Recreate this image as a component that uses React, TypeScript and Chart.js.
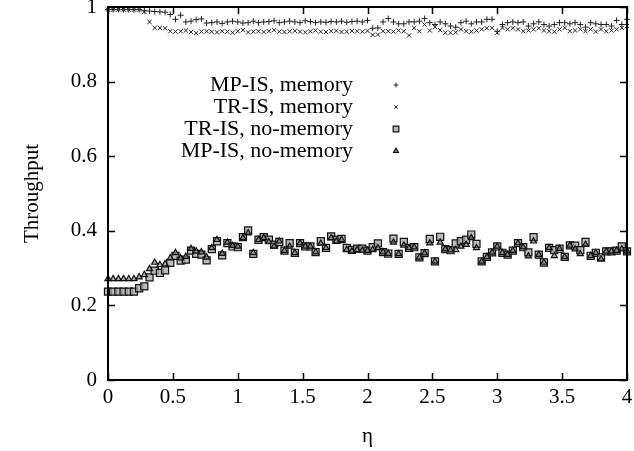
import React, { useEffect, useRef } from 'react';
import { Chart, registerables } from 'chart.js';

Chart.register(...registerables);

const FONT = '"Liberation Serif", "Times New Roman", serif';

// eta grid (x values)
const ETA_STEP = 0.04;
const ETA_COUNT = 101;
const ETA = Array.from({ length: ETA_COUNT }, (_, i) => Math.round(i * ETA_STEP * 100) / 100);

const X_TICKS = [0, 0.5, 1, 1.5, 2, 2.5, 3, 3.5, 4];
const Y_TICKS = [0, 0.2, 0.4, 0.6, 0.8, 1];

const SERIES_LABELS = ['MP-IS, memory', 'TR-IS, memory', 'TR-IS, no-memory', 'MP-IS, no-memory'];

const MP_IS_MEMORY = [
  0.993, 0.993, 0.993, 0.993, 0.993, 0.993, 0.993,
  0.990, 0.989, 0.988, 0.987, 0.986,
  0.980, 0.967, 0.978, 0.960, 0.962, 0.966, 0.968, 0.957, 0.958, 0.960,
  0.956, 0.960, 0.962, 0.960, 0.957, 0.958, 0.962, 0.958, 0.960, 0.961,
  0.963, 0.958, 0.960, 0.962, 0.960, 0.958, 0.963, 0.961, 0.958, 0.960,
  0.959, 0.961, 0.960, 0.962, 0.959, 0.961, 0.962, 0.960, 0.964,
  0.943, 0.944, 0.960, 0.969, 0.960, 0.955, 0.955, 0.960, 0.960, 0.962,
  0.969, 0.958, 0.953, 0.960, 0.955, 0.949, 0.946,
  0.958, 0.962, 0.955, 0.960, 0.960, 0.967, 0.967, 0.935, 0.953, 0.958,
  0.960, 0.958, 0.960, 0.949, 0.955, 0.960, 0.953, 0.949, 0.953, 0.958,
  0.958, 0.955, 0.958, 0.953, 0.946, 0.958, 0.955, 0.953, 0.953, 0.949,
  0.964, 0.953, 0.967,
];

const TR_IS_MEMORY = [
  0.993, 0.993, 0.993, 0.993, 0.993, 0.993, 0.993,
  0.987, 0.960, 0.944, 0.944, 0.943,
  0.935, 0.934, 0.935, 0.937, 0.933, 0.930, 0.934, 0.935, 0.934, 0.932,
  0.935, 0.934, 0.931, 0.935, 0.938, 0.932, 0.934, 0.935, 0.933, 0.935,
  0.938, 0.934, 0.933, 0.935, 0.936, 0.934, 0.932, 0.935, 0.937, 0.934,
  0.933, 0.935, 0.936, 0.933, 0.934, 0.936, 0.935, 0.934, 0.936,
  0.925, 0.926, 0.935, 0.935, 0.934, 0.937, 0.935, 0.924, 0.944, 0.935,
  0.953, 0.937, 0.946, 0.938, 0.931, 0.931, 0.932,
  0.940, 0.935, 0.934, 0.937, 0.940, 0.943, 0.944, 0.931, 0.944, 0.940,
  0.943, 0.940, 0.935, 0.937, 0.940, 0.943, 0.937, 0.935, 0.934, 0.940,
  0.944, 0.935, 0.937, 0.940, 0.935, 0.940, 0.934, 0.940, 0.935, 0.937,
  0.940, 0.944, 0.949,
];

const TR_IS_NO_MEMORY = [
  0.237, 0.237, 0.237, 0.237, 0.237, 0.237,
  0.246, 0.251, 0.275, 0.293, 0.287, 0.294, 0.314, 0.333, 0.320, 0.323,
  0.347, 0.338, 0.336, 0.321, 0.351, 0.372, 0.334, 0.367, 0.358, 0.356,
  0.383, 0.401, 0.338, 0.376, 0.383, 0.376, 0.363, 0.370, 0.347, 0.367,
  0.341, 0.367, 0.358, 0.358, 0.343, 0.372, 0.354, 0.385, 0.376, 0.378,
  0.354, 0.349, 0.352, 0.352, 0.347,
  0.356, 0.366, 0.343, 0.339, 0.379, 0.338, 0.370, 0.354, 0.356, 0.329,
  0.340, 0.378, 0.318, 0.384, 0.351, 0.348,
  0.366, 0.372, 0.376, 0.390, 0.365, 0.318, 0.330, 0.342, 0.358, 0.341,
  0.336, 0.347, 0.367, 0.356, 0.342, 0.383, 0.336, 0.315, 0.354, 0.348,
  0.352, 0.330, 0.361, 0.360, 0.348, 0.370, 0.333, 0.341, 0.329, 0.345,
  0.345, 0.347, 0.358, 0.345,
];

const MP_IS_NO_MEMORY = [
  0.271, 0.271, 0.271, 0.271, 0.271, 0.271,
  0.276, 0.282, 0.298, 0.315, 0.309, 0.311, 0.327, 0.341, 0.327, 0.331,
  0.352, 0.345, 0.343, 0.329, 0.354, 0.376, 0.339, 0.369, 0.360, 0.358,
  0.381, 0.394, 0.341, 0.376, 0.381, 0.370, 0.358, 0.372, 0.347, 0.358,
  0.341, 0.367, 0.358, 0.358, 0.343, 0.366, 0.354, 0.381, 0.372, 0.376,
  0.349, 0.345, 0.349, 0.347, 0.347,
  0.349, 0.354, 0.343, 0.339, 0.369, 0.338, 0.361, 0.354, 0.356, 0.329,
  0.340, 0.367, 0.318, 0.369, 0.351, 0.348,
  0.349, 0.358, 0.363, 0.381, 0.354, 0.318, 0.330, 0.342, 0.358, 0.341,
  0.336, 0.347, 0.367, 0.356, 0.332, 0.372, 0.336, 0.315, 0.354, 0.333,
  0.352, 0.330, 0.361, 0.351, 0.338, 0.363, 0.333, 0.341, 0.324, 0.345,
  0.345, 0.347, 0.351, 0.345,
];

const SERIES_VALUES = [MP_IS_MEMORY, TR_IS_MEMORY, TR_IS_NO_MEMORY, MP_IS_NO_MEMORY];

// styles
const W = 634;
const H = 451;
const AREA = { left: 108, right: 627, top: 7, bottom: 380 };
const TICK_LEN = 7;
const FONT_SIZE = 21;
const LEGEND_FONT_SIZE = 22;
const LEGEND = { textX: 353, markX: 396, top: 85, gap: 22 };

type MarkStyle = { pointStyle: string; radius: number; border: string; fill: string; width: number };
const MARKS: MarkStyle[] = [
  { pointStyle: 'cross', radius: 3, border: '#222', fill: 'transparent', width: 1 },
  { pointStyle: 'crossRot', radius: 3, border: '#222', fill: 'transparent', width: 1 },
  { pointStyle: 'rect', radius: 5, border: '#111', fill: 'rgba(170,170,170,0.8)', width: 1.2 },
  { pointStyle: 'triangle', radius: 3.5, border: '#111', fill: 'rgba(110,110,110,0.6)', width: 1.2 },
];
const DRAW_ORDER = [3, 2, 1, 0];

function drawMark(ctx: CanvasRenderingContext2D, m: MarkStyle, x: number, y: number) {
  ctx.save();
  ctx.strokeStyle = m.border;
  ctx.fillStyle = m.fill;
  ctx.lineWidth = m.width;
  ctx.beginPath();
  const r = m.radius;
  if (m.pointStyle === 'cross') {
    ctx.moveTo(x - r, y); ctx.lineTo(x + r, y);
    ctx.moveTo(x, y - r); ctx.lineTo(x, y + r);
    ctx.stroke();
  } else if (m.pointStyle === 'crossRot') {
    const d = r * Math.SQRT1_2;
    ctx.moveTo(x - d, y - d); ctx.lineTo(x + d, y + d);
    ctx.moveTo(x + d, y - d); ctx.lineTo(x - d, y + d);
    ctx.stroke();
  } else if (m.pointStyle === 'rect') {
    const s = r * Math.SQRT1_2;
    ctx.rect(x - s, y - s, 2 * s, 2 * s);
    ctx.fill(); ctx.stroke();
  } else {
    const a = (-90 * Math.PI) / 180;
    for (let k = 0; k < 3; k++) {
      const ang = a + (k * 2 * Math.PI) / 3;
      const px = x + Math.cos(ang) * r;
      const py = y + Math.sin(ang) * r;
      if (k === 0) ctx.moveTo(px, py); else ctx.lineTo(px, py);
    }
    ctx.closePath();
    ctx.fill(); ctx.stroke();
  }
  ctx.restore();
}

const framePlugin = {
  id: 'frameTicks',
  afterDraw(chart: any) {
    const { ctx, chartArea } = chart;
    const { left, right, top, bottom } = chartArea;
    const xs = chart.scales.x;
    const ys = chart.scales.y;
    ctx.save();
    ctx.strokeStyle = '#000';
    ctx.lineWidth = 1.5;
    ctx.beginPath();
    X_TICKS.forEach((v) => {
      const px = Math.round(xs.getPixelForValue(v)) + 0.5;
      ctx.moveTo(px, bottom); ctx.lineTo(px, bottom - TICK_LEN);
      ctx.moveTo(px, top); ctx.lineTo(px, top + TICK_LEN);
    });
    Y_TICKS.forEach((v) => {
      const py = Math.round(ys.getPixelForValue(v)) + 0.5;
      ctx.moveTo(left, py); ctx.lineTo(left + TICK_LEN, py);
      ctx.moveTo(right, py); ctx.lineTo(right - TICK_LEN, py);
    });
    ctx.stroke();
    ctx.lineWidth = 2;
    ctx.strokeRect(left, top, right - left, bottom - top);
    ctx.restore();

    // legend
    ctx.save();
    ctx.font = `${LEGEND_FONT_SIZE}px ${FONT}`;
    ctx.fillStyle = '#000';
    ctx.textAlign = 'right';
    ctx.textBaseline = 'middle';
    SERIES_LABELS.forEach((label, i) => {
      const yy = LEGEND.top + i * LEGEND.gap;
      ctx.fillText(label, LEGEND.textX, yy);
      const m = MARKS[i];
      drawMark(ctx, { ...m, radius: m.radius * 0.8 }, LEGEND.markX, yy);
    });
    ctx.restore();
  },
};

export default function App() {
  const ref = useRef<HTMLCanvasElement | null>(null);
  useEffect(() => {
    if (!ref.current) return;
    const datasets = SERIES_LABELS.map((label, i) => ({
      label,
      data: ETA.map((x, k) => ({ x, y: SERIES_VALUES[i][k] })),
      showLine: false,
      pointStyle: MARKS[i].pointStyle,
      pointRadius: MARKS[i].radius,
      pointHoverRadius: MARKS[i].radius,
      pointBorderColor: MARKS[i].border,
      pointBackgroundColor: MARKS[i].fill,
      pointBorderWidth: MARKS[i].width,
      borderColor: MARKS[i].border,
      backgroundColor: MARKS[i].fill,
      order: DRAW_ORDER[i],
      clip: false as any,
    }));
    const chart = new Chart(ref.current, {
      type: 'scatter',
      data: { datasets },
      options: {
        responsive: false,
        animation: false,
        devicePixelRatio: 1,
        layout: { padding: { left: 0, right: W - AREA.right, top: AREA.top, bottom: 0 } },
        plugins: { legend: { display: false }, tooltip: { enabled: false } },
        scales: {
          x: {
            type: 'linear',
            min: 0,
            max: 4,
            grid: { display: false, drawTicks: false },
            border: { display: false },
            ticks: {
              stepSize: 0.5,
              autoSkip: false,
              maxRotation: 0,
              padding: 5,
              color: '#000',
              font: { family: FONT, size: FONT_SIZE },
              callback: (v: any) => String(Math.round(Number(v) * 10) / 10),
            },
            title: {
              display: true,
              text: 'η',
              color: '#000',
              font: { family: FONT, size: FONT_SIZE },
              padding: { top: 0, bottom: 2 },
            },
            afterFit: (s: any) => {
              s.height = H - AREA.bottom;
              s.paddingLeft = 0;
              s.paddingRight = 0;
            },
          },
          y: {
            type: 'linear',
            min: 0,
            max: 1,
            grid: { display: false, drawTicks: false },
            border: { display: false },
            ticks: {
              stepSize: 0.2,
              padding: 11,
              color: '#000',
              font: { family: FONT, size: FONT_SIZE },
              callback: (v: any) => String(Math.round(Number(v) * 10) / 10),
            },
            title: {
              display: true,
              text: 'Throughput',
              color: '#000',
              font: { family: FONT, size: FONT_SIZE },
              padding: { top: 20, bottom: 0 },
            },
            afterFit: (s: any) => {
              s.width = AREA.left;
              s.paddingTop = 0;
              s.paddingBottom = 0;
            },
          },
        },
      },
      plugins: [framePlugin],
    });
    return () => chart.destroy();
  }, []);
  return (
    <div style={{ position: 'fixed', left: 0, top: 0, width: W, height: H, background: '#fff' }}>
      <canvas ref={ref} width={W} height={H} style={{ display: 'block', width: W, height: H }} />
    </div>
  );
}
